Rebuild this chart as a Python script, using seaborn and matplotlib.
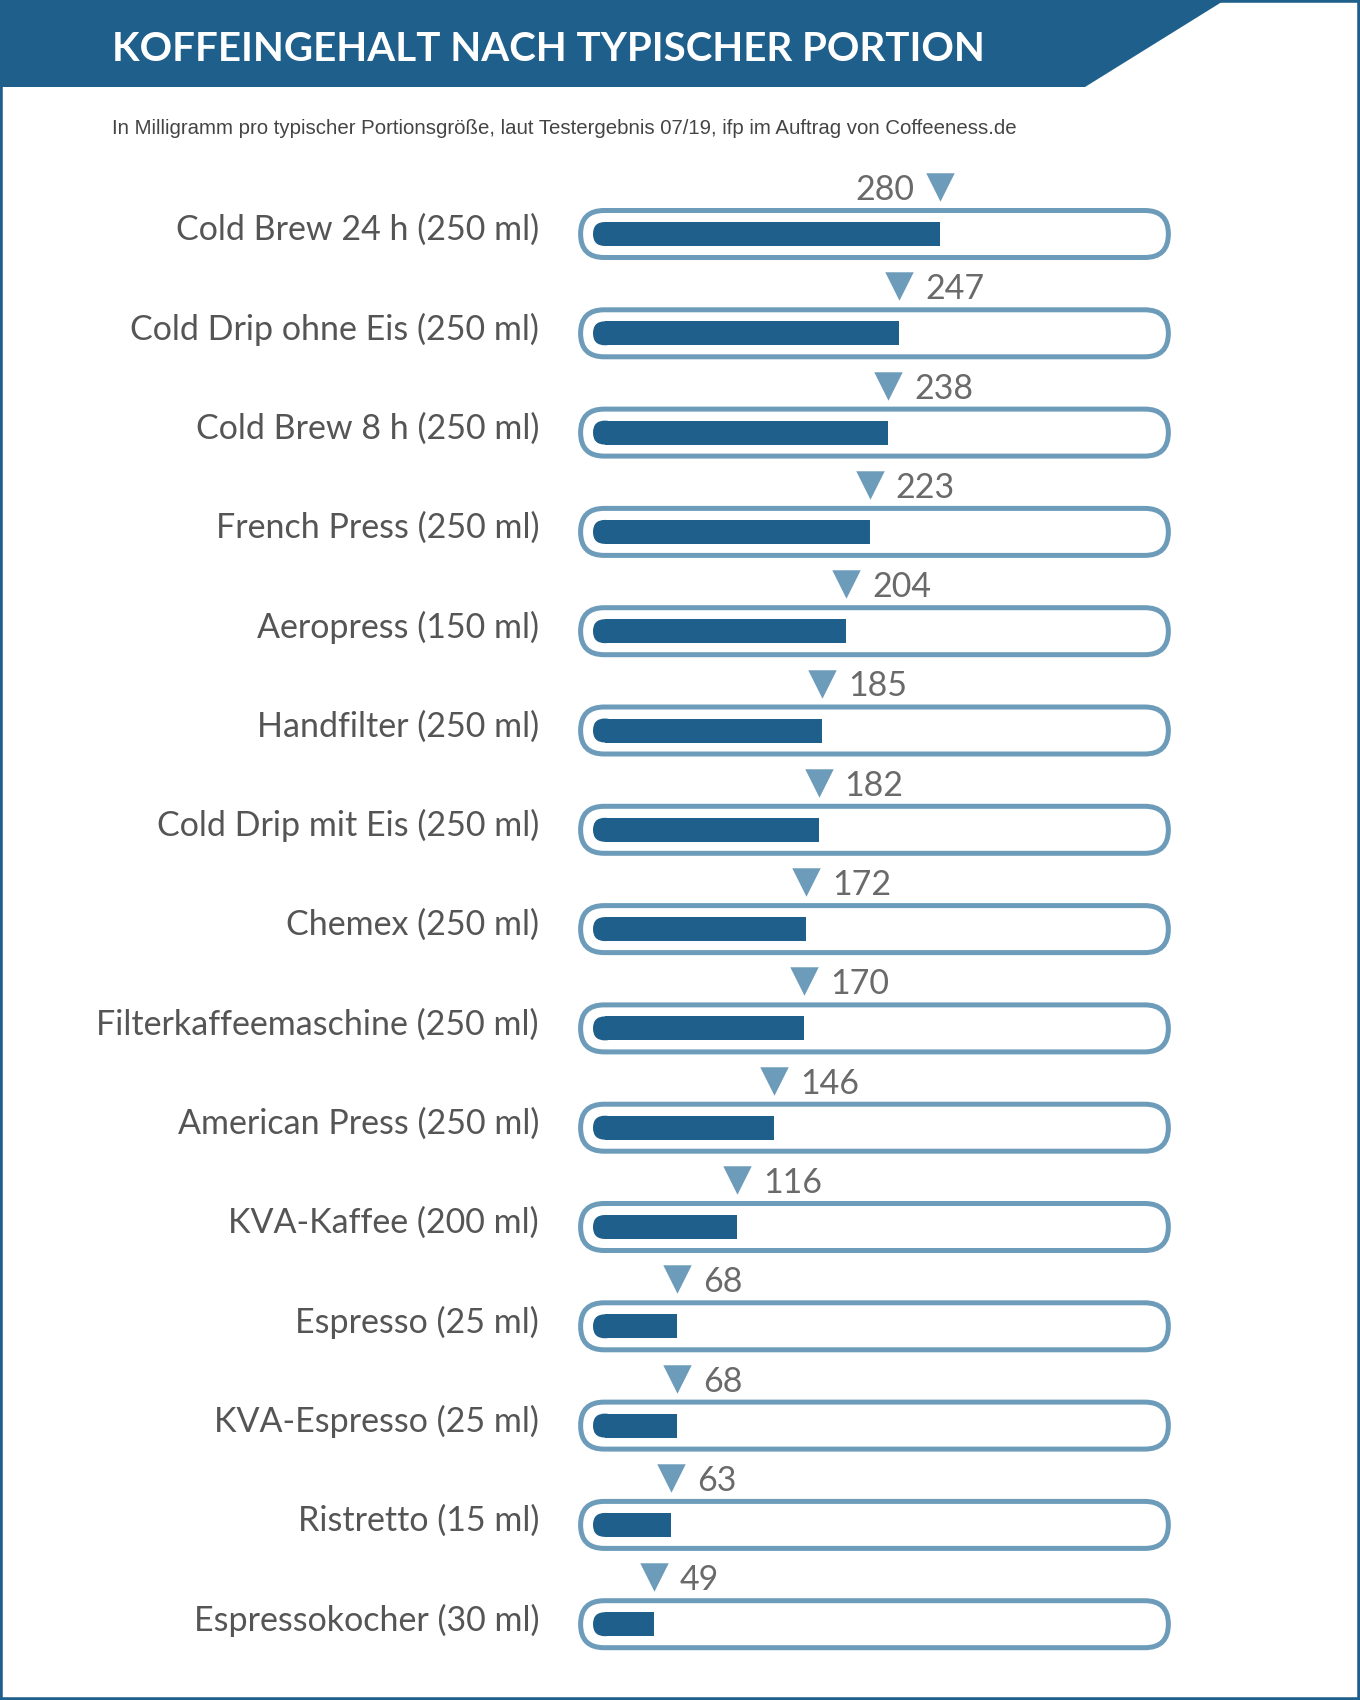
import matplotlib
matplotlib.use("Agg")
import numpy as np
import pandas as pd
import matplotlib.pyplot as plt
import seaborn as sns
from matplotlib.patches import FancyBboxPatch, Polygon, Rectangle
from matplotlib.transforms import offset_copy

# Data read off the infographic (mg caffeine per typical serving)
drinks = [
    "Cold Brew 24 h (250 ml)",
    "Cold Drip ohne Eis (250 ml)",
    "Cold Brew 8 h (250 ml)",
    "French Press (250 ml)",
    "Aeropress (150 ml)",
    "Handfilter (250 ml)",
    "Cold Drip mit Eis (250 ml)",
    "Chemex (250 ml)",
    "Filterkaffeemaschine (250 ml)",
    "American Press (250 ml)",
    "KVA-Kaffee (200 ml)",
    "Espresso (25 ml)",
    "KVA-Espresso (25 ml)",
    "Ristretto (15 ml)",
    "Espressokocher (30 ml)",
]
caffeine = [280, 247, 238, 223, 204, 185, 182, 172, 170, 146, 116, 68, 68, 63, 49]

title = "KOFFEINGEHALT NACH TYPISCHER PORTION"
subtitle = ("In Milligramm pro typischer Portionsgröße, laut Testergebnis 07/19, "
            "ifp im Auftrag von Coffeeness.de")

# Layout (pixels)
W, H = 1360, 1700
px_per_mg = 1.24
x0_px = 593
row0_px = 234
row_px = 99.3
track_end = 464      # mg, right end of the rounded outline
dark = "#1f5f8b"
light = "#6d9cba"

sns.set_theme(style="white")
plt.rcParams['font.family'] = ['Lato', 'DejaVu Sans']

fig = plt.figure(figsize=(W / 100, H / 100), dpi=100)
ax = fig.add_axes([0, 0, 1, 1])

df = pd.DataFrame({"drink": drinks, "mg": caffeine})
bar_h = 24 / row_px
sns.barplot(data=df, x="mg", y="drink", orient="h", color=dark, saturation=1,
            width=bar_h, linewidth=0, ax=ax, zorder=3)

ax.set_xlim(-x0_px / px_per_mg, (W - x0_px) / px_per_mg)
ax.set_ylim((H - row0_px) / row_px, -row0_px / row_px)
ax.axis("off")

aspect = px_per_mg / row_px
rows = np.arange(len(drinks))

# rounded outline tracks
track_h = 47 / row_px
track_r = 23.5 / px_per_mg
track_x = -10
for i in rows:
    ax.add_patch(FancyBboxPatch((track_x, i - track_h / 2), track_end - track_x, track_h,
                                boxstyle=f"round,pad=0,rounding_size={track_r}",
                                mutation_aspect=aspect, facecolor="white",
                                edgecolor=light, linewidth=3.6, zorder=1))

# bars: rounded left end, square right end
cap_r = 12 / px_per_mg
for p, v in zip(ax.patches[:len(caffeine)], caffeine):
    yb = p.get_y()
    p.set_x(cap_r)
    p.set_width(v - cap_r)
    ax.add_patch(FancyBboxPatch((0, yb), 2 * cap_r, bar_h,
                                boxstyle=f"round,pad=0,rounding_size={cap_r}",
                                mutation_aspect=aspect, facecolor=dark,
                                edgecolor="none", zorder=3))

# triangle markers and values
tri_dy = 47 / row_px
ax.scatter(caffeine, rows - tri_dy, marker="v", s=420, color=light,
           linewidths=0, zorder=4)
right_tf = offset_copy(ax.transData, fig, x=26, y=0, units="dots")
left_tf = offset_copy(ax.transData, fig, x=-26, y=0, units="dots")
for i, v in zip(rows, caffeine):
    if v == max(caffeine):
        ax.text(v, i - tri_dy, str(v), transform=left_tf, ha="right",
                va="center_baseline", fontsize=24.5, fontweight="normal", color="#6a6a6a")
    else:
        ax.text(v, i - tri_dy, str(v), transform=right_tf, ha="left",
                va="center_baseline", fontsize=24.5, fontweight="normal", color="#6a6a6a")

# category labels
lab_tf = offset_copy(ax.transData, fig, x=-54, y=0, units="dots")
for i, name in zip(rows, drinks):
    ax.text(0, i - 7 / row_px, name, transform=lab_tf, ha="right",
            va="center_baseline", fontsize=24.5, fontweight="normal", color="#555555")

# header band and frame
band_h = 87 / H
fig.add_artist(Polygon([(0, 1), (1225 / W, 1), (1085 / W, 1 - band_h), (0, 1 - band_h)],
                       closed=True, transform=fig.transFigure, facecolor=dark,
                       edgecolor="none", zorder=5))
fig.add_artist(Rectangle((0, 0), 1, 1, transform=fig.transFigure, fill=False,
                         edgecolor=dark, linewidth=4, zorder=6))
fig.text(112 / W, 1 - 46 / H, title, color="white", fontsize=29, fontweight="bold",
         va="center_baseline", ha="left", zorder=7)
fig.text(112 / W, 1 - 126 / H, subtitle, color="#444444", fontsize=14.7,
         family=["Liberation Sans", "DejaVu Sans"], va="center_baseline", ha="left")

fig.savefig("out.png", dpi=100)
